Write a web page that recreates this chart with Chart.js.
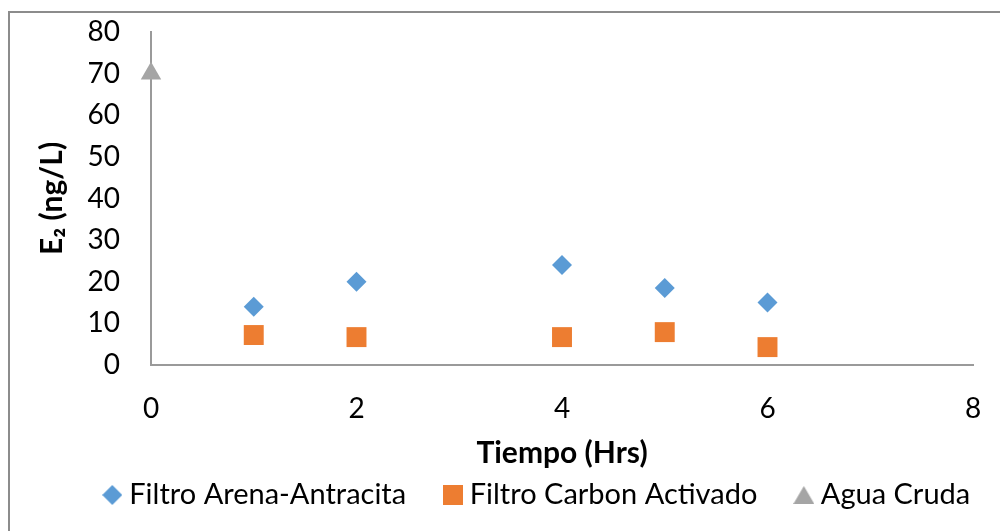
<!DOCTYPE html>
<html>
<head>
<meta charset="utf-8">
<script src="https://cdn.jsdelivr.net/npm/chart.js@4/dist/chart.umd.min.js"></script>
<style>
  html, body { margin: 0; padding: 0; background: #fff; }
  #wrap { position: relative; width: 1000px; height: 531px; overflow: hidden; }
  #frame { position: absolute; left: 8px; top: 11px; right: -2px; bottom: -2px;
           border-top: 2px solid #8c8c8c; border-left: 2px solid #8c8c8c; pointer-events: none; }
  canvas { position: absolute; left: 0; top: 0; }
</style>
</head>
<body>
<div id="wrap">
  <canvas id="c" width="1000" height="531"></canvas>
  <div id="frame"></div>
</div>
<script>
// Sampling times (hours) and E2 concentrations (ng/L)
const tiemposFiltro = [1, 2, 4, 5, 6];
const arenaAntracita = [14, 20, 24, 18.5, 15];
const carbonActivado = [7.2, 6.7, 6.7, 7.9, 4.3];
const tiempoCruda = [0];
const aguaCruda = [70];

const xTicks = [0, 2, 4, 6, 8];
const yTicks = [0, 10, 20, 30, 40, 50, 60, 70, 80];

const seriesNames = ['Filtro Arena-Antracita', 'Filtro Carbon Activado', 'Agua Cruda'];
const colores = ['#5B9BD5', '#ED7D31', '#A5A5A5'];

const toPoints = (xs, ys) => xs.map((x, i) => ({ x: x, y: ys[i] }));

const FONT = 'Lato, "Open Sans", sans-serif';
const axisColor = '#9a9a9a';
const LEGEND_PAD = 44;
const LEGEND_SIZE = 29;

// Small legend swatches (diamond, square, triangle)
function swatch(kind, color) {
  const w = kind === 'triangle' ? 21 : 20;
  const h = kind === 'triangle' ? 18 : 20;
  const cv = document.createElement('canvas');
  cv.width = w; cv.height = h;
  const g = cv.getContext('2d');
  g.fillStyle = color;
  g.beginPath();
  if (kind === 'diamond') {
    g.moveTo(w / 2, 0); g.lineTo(w, h / 2); g.lineTo(w / 2, h); g.lineTo(0, h / 2);
  } else if (kind === 'square') {
    g.rect(0, 0, w, h);
  } else {
    g.moveTo(w / 2, 0); g.lineTo(w, h); g.lineTo(0, h);
  }
  g.closePath();
  g.fill();
  return cv;
}
const legendIcons = [swatch('diamond', colores[0]), swatch('square', colores[1]), swatch('triangle', colores[2])];

// Places the legend row under the axis title, centred at x = 540
const legendPlacement = {
  id: 'legendPlacement',
  afterLayout(chart) {
    const lg = chart.legend;
    if (!lg) return;
    lg.left = 40; lg.right = 1040;
    lg.top = 495 - LEGEND_PAD - LEGEND_SIZE / 2;
    lg.bottom = 531;
  }
};

// Invisible tick marks keep the labels away from the axis lines
const hiddenGrid = (len) => ({ display: true, drawOnChartArea: false, drawTicks: true,
                               tickLength: len, color: 'rgba(0,0,0,0)' });

new Chart(document.getElementById('c'), {
  type: 'scatter',
  data: {
    datasets: [
      { label: seriesNames[0], data: toPoints(tiemposFiltro, arenaAntracita),
        pointStyle: 'rectRot', pointRadius: 10, pointHoverRadius: 10,
        backgroundColor: colores[0], borderColor: colores[0], borderWidth: 0, clip: false },
      { label: seriesNames[1], data: toPoints(tiemposFiltro, carbonActivado),
        pointStyle: 'rect', pointRadius: 14.1, pointHoverRadius: 14.1,
        backgroundColor: colores[1], borderColor: colores[1], borderWidth: 0, clip: false },
      { label: seriesNames[2], data: toPoints(tiempoCruda, aguaCruda),
        pointStyle: 'triangle', pointRadius: 11.8, pointHoverRadius: 11.8,
        backgroundColor: colores[2], borderColor: colores[2], borderWidth: 0, clip: false }
    ]
  },
  plugins: [legendPlacement],
  options: {
    responsive: false,
    animation: false,
    events: [],
    layout: { autoPadding: false, padding: { left: 8, top: 32, right: 27, bottom: 18 } },
    plugins: {
      tooltip: { enabled: false },
      legend: {
        position: 'bottom',
        maxHeight: 40,
        labels: {
          usePointStyle: true,
          boxWidth: 5,
          boxHeight: 20,
          padding: LEGEND_PAD,
          color: '#000',
          font: { family: FONT, size: LEGEND_SIZE },
          generateLabels: (chart) => {
            const items = Chart.defaults.plugins.legend.labels.generateLabels(chart);
            items.forEach((it, i) => { it.pointStyle = legendIcons[i]; });
            return items;
          }
        }
      }
    },
    scales: {
      x: {
        type: 'linear',
        min: 0, max: 8,
        afterBuildTicks: (s) => { s.ticks = xTicks.map(v => ({ value: v })); },
        afterFit: (s) => { s.height = 108; },
        grid: hiddenGrid(27),
        border: { display: true, color: axisColor, width: 2 },
        ticks: { color: '#000', padding: 0, font: { family: FONT, size: 28 } },
        title: { display: true, text: 'Tiempo (Hrs)', color: '#000',
                 padding: { top: 0, bottom: 2 },
                 font: { family: FONT, size: 30, weight: 'bold' } }
      },
      y: {
        type: 'linear',
        min: 0, max: 80,
        afterBuildTicks: (s) => { s.ticks = yTicks.map(v => ({ value: v })); },
        afterFit: (s) => { s.width = 143; },
        grid: hiddenGrid(31),
        border: { display: true, color: axisColor, width: 2 },
        ticks: { color: '#000', padding: 0, font: { family: FONT, size: 28 } },
        title: { display: true, text: 'E₂ (ng/L)', color: '#000',
                 padding: { top: 26, bottom: 0 },
                 font: { family: FONT, size: 30, weight: 'bold' } }
      }
    }
  }
});
</script>
</body>
</html>
